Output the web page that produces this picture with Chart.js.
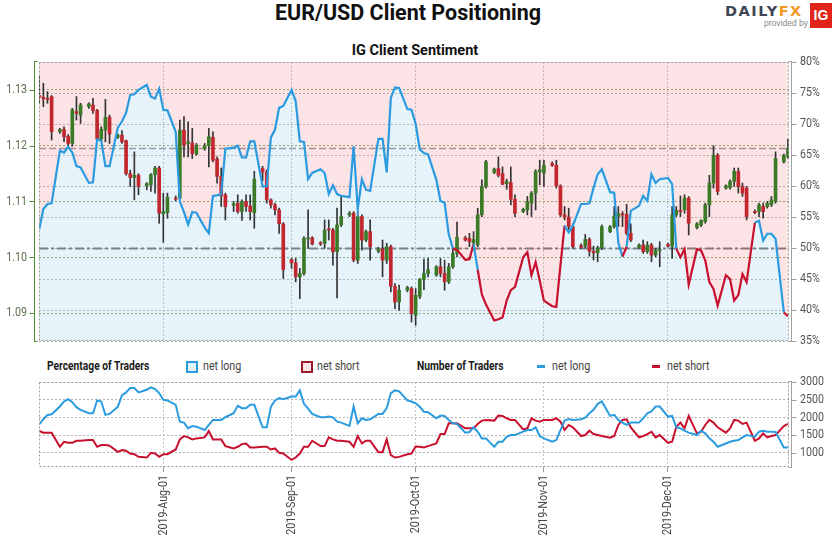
<!DOCTYPE html>
<html>
<head>
<meta charset="utf-8">
<script src="https://cdn.jsdelivr.net/npm/chart.js@4.4.1/dist/chart.umd.min.js"></script>
<style>
  body { margin: 0; background: #fff; }
  #wrap { position: relative; width: 837px; height: 541px; background: #fff; overflow: hidden;
          font-family: Roboto, sans-serif; }
  .abs { position: absolute; white-space: nowrap; }
  .title { left: 408px; top: 0px; transform: translateX(-50%); font: bold 21.5px Roboto, sans-serif; color: #111; }
  .sub { left: 415px; top: 42px; transform: translateX(-50%); font: bold 14.5px Roboto, sans-serif; color: #111; }
  .logo { left: 725px; top: 3px; font: bold 14.5px 'DejaVu Sans', sans-serif; letter-spacing: 1.5px; color: #3f4553; }
  .logo span { color: #f39a1f; }
  .prov { left: 764px; top: 18px; font: 8.5px 'Liberation Sans', sans-serif; color: #8a8a8a; }
  .ig { left: 810px; top: 3px; width: 22px; height: 25px; background: #e2231a; color: #fff;
        font: bold 14px 'Liberation Sans', sans-serif; line-height: 25px; text-align: center; }
  .lg { top: 358px; height: 16px; line-height: 16px; font-size: 13px; color: #444;
        transform: scaleX(0.82); transform-origin: left center; }
  .lg.head { font-weight: bold; font-size: 12.5px; color: #1a1a1a; }
  .box { top: 361px; width: 8px; height: 8px; border: 2px solid; }
  .dash { top: 365px; width: 8px; height: 3px; }
  #topBox { left: 0; top: 55px; width: 837px; height: 295px; }
  #botBox { left: 0; top: 375px; width: 837px; height: 166px; }
</style>
</head>
<body>
<div id="wrap">
  <div class="abs title">EUR/USD Client Positioning</div>
  <div class="abs logo">DAILY<span>FX</span></div>
  <div class="abs prov">provided by</div>
  <div class="abs ig">IG</div>
  <div class="abs sub">IG Client Sentiment</div>

  <div class="abs" id="topBox"><canvas id="sentChart" width="837" height="295"></canvas></div>

  <div class="abs lg head" style="left:47px">Percentage of Traders</div>
  <div class="abs box" style="left:186px;border-color:#2b9be0;background:#e3f1fb"></div>
  <div class="abs lg" style="left:203px">net long</div>
  <div class="abs box" style="left:301px;border-color:#a0192b;background:#fbe3e6"></div>
  <div class="abs lg" style="left:317px">net short</div>
  <div class="abs lg head" style="left:417px">Number of Traders</div>
  <div class="abs dash" style="left:537px;background:#2b9be0"></div>
  <div class="abs lg" style="left:552px">net long</div>
  <div class="abs dash" style="left:652px;background:#c8102e"></div>
  <div class="abs lg" style="left:667px">net short</div>

  <div class="abs" id="botBox"><canvas id="countChart" width="837" height="166"></canvas></div>
</div>

<script>
// day numbers counted from 2019-07-01 (day 0); Saturdays have no candle
const tradingDays = [];
for (let d = 1; d <= 182; d++) {
    if (d % 7 !== 5) tradingDays.push(d);
}

const monthDays = [31, 62, 92, 123, 153];
const monthLabels = ['2019-Aug-01', '2019-Sep-01', '2019-Oct-01', '2019-Nov-01', '2019-Dec-01'];
const priceTicks = [1.09, 1.10, 1.11, 1.12, 1.13];
const countTicks = [1000, 1500, 2000, 2500, 3000];

// EUR/USD daily candles, one line per week
const opens = [
    1.1290, 1.1287, 1.1284, 1.1288,
    1.1225, 1.1229, 1.1217, 1.1204, 1.1261, 1.1255,
    1.1270, 1.1273, 1.1263, 1.1212, 1.1228, 1.1251,
    1.1215, 1.1219, 1.1209, 1.1150, 1.1143, 1.1147,
    1.1128, 1.1130, 1.1148, 1.1160, 1.1078, 1.1080,
    1.1106, 1.1106, 1.1228, 1.1204, 1.1205, 1.1185,
    1.1195, 1.1200, 1.1215, 1.1176, 1.1145, 1.1112,
    1.1093, 1.1097, 1.1082, 1.1100, 1.1092, 1.1080,
    1.1159, 1.1153, 1.1103, 1.1094, 1.1085, 1.1060,
    1.0996, 1.0990, 1.0965, 1.0971, 1.1033, 1.1035,
    1.1026, 1.1025, 1.1051, 1.1049, 1.1010, 1.1058,
    1.1076, 1.1079, 1.0995, 1.1073, 1.1031, 1.1046,
    1.1011, 1.1015, 1.0995, 1.1019, 1.0948, 1.0920,
    1.0941, 1.0944, 1.0896, 1.0930, 1.0960, 1.0971,
    1.0968, 1.0983, 1.0971, 1.0956, 1.0983, 1.1007,
    1.1035, 1.1034, 1.1026, 1.1022, 1.1076, 1.1127,
    1.1152, 1.1159, 1.1150, 1.1132, 1.1134, 1.1104,
    1.1082, 1.1085, 1.1097, 1.1115, 1.1153, 1.1151,
    1.1168, 1.1165, 1.1128, 1.1076, 1.1072, 1.1055,
    1.1021, 1.1020, 1.1032, 1.1011, 1.1008, 1.1017,
    1.1046, 1.1055, 1.1073, 1.1078, 1.1077, 1.1043,
    1.1018, 1.1022, 1.1010, 1.1022, 1.1004, 1.1012,
    1.1023, 1.1020, 1.1076, 1.1084, 1.1085, 1.1106,
    1.1053, 1.1058, 1.1064, 1.1094, 1.1133, 1.1183,
    1.1124, 1.1125, 1.1136, 1.1154, 1.1127, 1.1124,
    1.1082, 1.1082, 1.1091, 1.1091, 1.1094, 1.1100,
    1.1171, 1.1180
];
const highs = [
    1.1324, 1.1312, 1.1297, 1.1290,
    1.1231, 1.1234, 1.1220, 1.1267, 1.1288, 1.1276,
    1.1277, 1.1285, 1.1265, 1.1234, 1.1283, 1.1255,
    1.1221, 1.1227, 1.1210, 1.1156, 1.1189, 1.1150,
    1.1134, 1.1150, 1.1163, 1.1163, 1.1115, 1.1115,
    1.1110, 1.1246, 1.1252, 1.1243, 1.1231, 1.1204,
    1.1204, 1.1231, 1.1225, 1.1180, 1.1160, 1.1115,
    1.1100, 1.1112, 1.1103, 1.1112, 1.1112, 1.1154,
    1.1163, 1.1157, 1.1105, 1.1097, 1.1088, 1.1062,
    1.0998, 1.0998, 1.0980, 1.1037, 1.1085, 1.1037,
    1.1028, 1.1067, 1.1067, 1.1052, 1.1088, 1.1109,
    1.1082, 1.1082, 1.1082, 1.1076, 1.1049, 1.1067,
    1.1018, 1.1031, 1.1025, 1.1022, 1.0953, 1.0950,
    1.0948, 1.0947, 1.0944, 1.0962, 1.0997, 1.0998,
    1.0985, 1.0998, 1.0995, 1.0989, 1.1016, 1.1063,
    1.1038, 1.1043, 1.1046, 1.1088, 1.1139, 1.1174,
    1.1160, 1.1180, 1.1162, 1.1140, 1.1162, 1.1112,
    1.1088, 1.1109, 1.1118, 1.1157, 1.1174, 1.1174,
    1.1171, 1.1174, 1.1130, 1.1091, 1.1088, 1.1060,
    1.1024, 1.1041, 1.1035, 1.1020, 1.1020, 1.1058,
    1.1057, 1.1091, 1.1091, 1.1082, 1.1095, 1.1060,
    1.1024, 1.1031, 1.1028, 1.1025, 1.1016, 1.1028,
    1.1025, 1.1091, 1.1091, 1.1110, 1.1112, 1.1109,
    1.1062, 1.1067, 1.1097, 1.1147, 1.1200, 1.1186,
    1.1130, 1.1139, 1.1160, 1.1160, 1.1133, 1.1127,
    1.1085, 1.1097, 1.1097, 1.1100, 1.1109, 1.1189,
    1.1185, 1.1212
];
const lows = [
    1.1276, 1.1270, 1.1276, 1.1210,
    1.1222, 1.1207, 1.1198, 1.1199, 1.1246, 1.1240,
    1.1267, 1.1258, 1.1210, 1.1207, 1.1207, 1.1204,
    1.1213, 1.1204, 1.1147, 1.1127, 1.1103, 1.1112,
    1.1121, 1.1118, 1.1115, 1.1061, 1.1027, 1.1070,
    1.1101, 1.1105, 1.1180, 1.1180, 1.1177, 1.1183,
    1.1192, 1.1162, 1.1171, 1.1133, 1.1091, 1.1067,
    1.1082, 1.1079, 1.1066, 1.1082, 1.1067, 1.1052,
    1.1137, 1.1097, 1.1088, 1.1076, 1.1043, 1.0962,
    1.0980, 1.0956, 1.0926, 1.0968, 1.1016, 1.1022,
    1.1021, 1.1016, 1.1031, 1.0986, 1.0927, 1.1055,
    1.1073, 1.0992, 1.0989, 1.1013, 1.1028, 1.0995,
    1.1008, 1.0965, 1.0989, 1.0938, 1.0908, 1.0905,
    1.0938, 1.0884, 1.0878, 1.0926, 1.0942, 1.0965,
    1.0966, 1.0965, 1.0941, 1.0953, 1.0980, 1.1001,
    1.1029, 1.1019, 1.1013, 1.1019, 1.1073, 1.1124,
    1.1150, 1.1144, 1.1130, 1.1122, 1.1094, 1.1073,
    1.1080, 1.1076, 1.1073, 1.1085, 1.1130, 1.1127,
    1.1163, 1.1124, 1.1073, 1.1067, 1.1050, 1.1016,
    1.1016, 1.1017, 1.1002, 1.0995, 1.0992, 1.1014,
    1.1044, 1.1052, 1.1055, 1.1055, 1.1040, 1.1028,
    1.1016, 1.1007, 1.1007, 1.0992, 1.1001, 1.0983,
    1.1018, 1.0998, 1.1073, 1.1073, 1.1079, 1.1040,
    1.1051, 1.1055, 1.1061, 1.1073, 1.1124, 1.1112,
    1.1122, 1.1122, 1.1127, 1.1115, 1.1109, 1.1067,
    1.1078, 1.1073, 1.1070, 1.1088, 1.1091, 1.1097,
    1.1169, 1.1177
];
const closes = [
    1.1287, 1.1284, 1.1283, 1.1225,
    1.1229, 1.1216, 1.1204, 1.1264, 1.1258, 1.1273,
    1.1275, 1.1263, 1.1212, 1.1229, 1.1251, 1.1221,
    1.1219, 1.1207, 1.1150, 1.1143, 1.1147, 1.1127,
    1.1132, 1.1148, 1.1160, 1.1079, 1.1082, 1.1108,
    1.1104, 1.1228, 1.1201, 1.1207, 1.1186, 1.1201,
    1.1200, 1.1216, 1.1174, 1.1145, 1.1110, 1.1091,
    1.1096, 1.1082, 1.1100, 1.1091, 1.1082, 1.1140,
    1.1153, 1.1103, 1.1094, 1.1085, 1.1060, 1.0978,
    1.0990, 1.0965, 1.0971, 1.1034, 1.1035, 1.1024,
    1.1024, 1.1049, 1.1049, 1.1010, 1.1058, 1.1073,
    1.1079, 1.0995, 1.1073, 1.1031, 1.1046, 1.1019,
    1.1015, 1.0995, 1.1019, 1.0948, 1.0920, 1.0941,
    1.0946, 1.0899, 1.0932, 1.0961, 1.0971, 1.0978,
    1.0983, 1.0971, 1.0956, 1.0983, 1.1007, 1.1036,
    1.1031, 1.1028, 1.1032, 1.1076, 1.1127, 1.1171,
    1.1158, 1.1147, 1.1131, 1.1136, 1.1104, 1.1079,
    1.1086, 1.1100, 1.1115, 1.1154, 1.1157, 1.1165,
    1.1165, 1.1128, 1.1076, 1.1072, 1.1055, 1.1019,
    1.1018, 1.1032, 1.1011, 1.1008, 1.1017, 1.1055,
    1.1055, 1.1074, 1.1078, 1.1076, 1.1043, 1.1031,
    1.1022, 1.1010, 1.1022, 1.1004, 1.1013, 1.1014,
    1.1020, 1.1076, 1.1084, 1.1082, 1.1106, 1.1061,
    1.1060, 1.1066, 1.1094, 1.1133, 1.1183, 1.1118,
    1.1128, 1.1136, 1.1154, 1.1127, 1.1115, 1.1073,
    1.1080, 1.1094, 1.1082, 1.1097, 1.1103, 1.1177,
    1.1183, 1.1195
];

// IG client sentiment: % of traders net long
const netLongPct = [
    53.0, 56.3, 57.1, 57.2,
    65.7, 65.4, 66.3, 65.4, 63.2, 63.0,
    60.5, 60.6, 67.5, 67.3, 63.2, 63.2,
    69.4, 70.4, 71.8, 74.7, 74.8, 75.5,
    76.3, 74.4, 74.1, 75.7, 72.3, 72.2,
    68.7, 57.5, 55.8, 53.8, 55.8, 55.7,
    53.3, 52.4, 58.4, 58.5, 58.7, 66.0,
    66.2, 66.5, 64.6, 64.6, 67.2, 67.2,
    59.9, 60.0, 67.8, 69.1, 72.6, 72.9,
    75.5, 73.7, 67.2, 67.1, 61.1, 62.1,
    62.7, 62.1, 58.7, 60.1, 58.7, 58.4,
    58.2, 66.4, 56.3, 61.1, 59.4, 59.2,
    67.6, 67.6, 62.2, 74.2, 75.9, 75.8,
    72.4, 72.3, 70.0, 65.9, 65.3, 65.1,
    61.0, 57.6, 57.3, 52.2, 49.9, 49.7,
    48.1, 48.2, 50.6, 46.5, 42.5, 40.9,
    38.3, 38.5, 38.8, 41.5, 43.2, 43.7,
    48.5, 49.3, 45.6, 47.7, 44.7, 41.5,
    40.6, 40.5, 47.2, 53.6, 52.5, 53.6,
    57.1, 57.1, 57.2, 59.7, 61.9, 62.7,
    59.0, 58.9, 50.8, 48.6, 50.2, 56.0,
    56.8, 58.4, 57.6, 61.9, 60.5, 61.1,
    61.3, 60.3, 49.9, 48.5, 49.8, 44.1,
    49.8, 49.6, 48.0, 44.5, 43.4, 40.7,
    45.6, 45.0, 41.5, 42.4, 45.8, 44.5,
    54.1, 54.4, 51.2, 52.3, 52.3, 51.5,
    39.6, 39.0
];

// number of traders
const longCount = [
    1800, 1950, 2071, 2090,
    2308, 2450, 2517, 2430, 2290, 2213,
    2118, 2118, 2479, 2450, 2071, 2099,
    2300, 2620, 2706, 2829, 2829, 2706,
    2782, 2848, 2801, 2687, 2498, 2479,
    2355, 1881, 1853, 1692, 1758, 1739,
    1644, 1787, 1929, 1929, 1929, 2005,
    2118, 2327, 2261, 2261, 2355, 2355,
    1720, 1720, 2300, 2480, 2545, 2517,
    2592, 2592, 2763, 2384, 2250, 2099,
    2005, 2005, 2024, 2000, 1881, 1853,
    1758, 2308, 1834, 1976, 1929, 1948,
    2099, 2099, 2261, 2687, 2763, 2735,
    2479, 2450, 2400, 2300, 2160, 2147,
    1976, 2052, 2043, 1929, 1834, 1815,
    1569, 1588, 1720, 1597, 1408, 1408,
    1171, 1313, 1313, 1455, 1502, 1502,
    1597, 1644, 1644, 1720, 1474, 1408,
    1313, 1360, 1644, 1910, 1957, 1929,
    1948, 1995, 2118, 2213, 2384, 2450,
    2043, 2071, 1929, 1853, 1787, 1853,
    1853, 1976, 2118, 2166, 2308, 2308,
    2024, 2043, 1720, 1692, 1625, 1569,
    1502, 1625, 1550, 1408, 1313, 1171,
    1265, 1313, 1341, 1360, 1436, 1502,
    1455, 1597, 1625, 1597, 1597, 1590,
    1152, 1152
];
const shortCount = [
    1616, 1569, 1569, 1569,
    1171, 1313, 1284, 1284, 1341, 1341,
    1360, 1360, 1171, 1218, 1218, 1199,
    1028, 1076, 1057, 981, 962, 886,
    867, 1000, 981, 886, 962, 962,
    1095, 1379, 1474, 1436, 1379, 1408,
    1436, 1616, 1379, 1379, 1379, 1190,
    1123, 1171, 1246, 1265, 1152, 1152,
    1171, 1171, 1095, 1123, 1000, 981,
    800, 867, 981, 1171, 1171, 1341,
    1190, 1190, 1436, 1379, 1341, 1341,
    1313, 1171, 1474, 1265, 1341, 1341,
    1019, 1019, 1379, 933, 867, 886,
    962, 981, 1180, 1170, 1152, 1190,
    1265, 1531, 1531, 1834, 1834, 1834,
    1692, 1692, 1692, 1815, 1910, 1929,
    1910, 2052, 2043, 1976, 1929, 1929,
    1663, 1692, 1976, 1910, 1881, 1929,
    1929, 1976, 1881, 1644, 1787, 1720,
    1474, 1502, 1625, 1531, 1502, 1474,
    1427, 1474, 1787, 1929, 1948, 1720,
    1436, 1474, 1531, 1597, 1436, 1502,
    1284, 1313, 1739, 1853, 1692, 2043,
    1550, 1597, 1787, 1929, 1853, 1720,
    1569, 1692, 1929, 1910, 1815, 1853,
    1341, 1408, 1550, 1436, 1474, 1502,
    1758, 1815
];

const BLUE = '#2b9be0';
const RED = '#c8102e';
const UP = '#3b7a26';
const DOWN = '#c2262e';
const LABEL_FONT = '13px Roboto, sans-serif';
const SQUEEZE = 0.82;   // the original uses a condensed face
const X_MIN = 0.95, X_MAX = 182.25;

const pts = arr => tradingDays.map((d, i) => ({ x: d, y: arr[i] }));

// dotted frame round the plot area
function drawFrame(ctx, area) {
    ctx.save();
    ctx.strokeStyle = '#9a9a9a';
    ctx.lineWidth = 1;
    ctx.setLineDash([2, 2]);
    ctx.strokeRect(area.left + 0.5, area.top + 0.5, area.width - 1, area.height - 1);
    ctx.restore();
}

// axis line sitting just outside the plot, with small tick marks
function drawAxis(ctx, scale, x, dir, color) {
    ctx.save();
    ctx.strokeStyle = color;
    ctx.lineWidth = 1;
    ctx.setLineDash([]);
    ctx.beginPath();
    ctx.moveTo(x + 0.5, scale.top - 1);
    ctx.lineTo(x + 0.5, scale.bottom + 1);
    ctx.moveTo(x + 0.5, scale.top - 0.5);
    ctx.lineTo(x + 0.5 - dir * 3, scale.top - 0.5);
    ctx.moveTo(x + 0.5, scale.bottom + 0.5);
    ctx.lineTo(x + 0.5 - dir * 3, scale.bottom + 0.5);
    scale.ticks.forEach(t => {
        const y = Math.round(scale.getPixelForValue(t.value)) + 0.5;
        ctx.moveTo(x + 0.5, y);
        ctx.lineTo(x + 0.5 + dir * 5, y);
    });
    ctx.stroke();
    ctx.restore();
}

function drawLabel(ctx, text, x, y, align, color, rotate) {
    ctx.save();
    ctx.translate(x, y);
    if (rotate) ctx.rotate(-Math.PI / 2);
    ctx.scale(SQUEEZE, 1);
    ctx.font = LABEL_FONT;
    ctx.fillStyle = color;
    ctx.textAlign = align;
    ctx.textBaseline = 'middle';
    ctx.fillText(text, 0, 0);
    ctx.restore();
}

function yLabels(ctx, scale, x, align, color, fmt) {
    scale.ticks.forEach(t => {
        drawLabel(ctx, fmt(t.value), x, scale.getPixelForValue(t.value), align, color, false);
    });
}

function hLine(ctx, area, y, color, width, dash) {
    ctx.save();
    ctx.strokeStyle = color;
    ctx.lineWidth = width;
    ctx.setLineDash(dash);
    ctx.beginPath();
    ctx.moveTo(area.left, y);
    ctx.lineTo(area.right, y);
    ctx.stroke();
    ctx.restore();
}

const monthAxisTicks = s => { s.ticks = monthDays.map(v => ({ value: v })); };

// ---------- top panel: price candles + sentiment ----------
new Chart(document.getElementById('sentChart'), {
    type: 'bar',
    data: {
        datasets: [
            {
                type: 'line', data: pts(netLongPct), yAxisID: 'yS',
                fill: 'end', backgroundColor: 'rgba(238, 88, 100, 0.17)',
                borderWidth: 0, pointRadius: 0, order: 10
            },
            {
                type: 'line', data: pts(netLongPct), yAxisID: 'yS',
                fill: 'start', backgroundColor: 'rgba(100, 180, 230, 0.16)',
                borderWidth: 0, pointRadius: 0, order: 9
            },
            {
                data: tradingDays.map((d, i) => ({ x: d, y: [lows[i], highs[i]] })),
                yAxisID: 'yP', barThickness: 1, grouped: false,
                backgroundColor: '#333', order: 3
            },
            {
                data: tradingDays.map((d, i) => ({ x: d, y: [opens[i], closes[i]] })),
                yAxisID: 'yP', barThickness: 3, grouped: false, minBarLength: 1,
                backgroundColor: ctx => closes[ctx.dataIndex] >= opens[ctx.dataIndex] ? UP : DOWN,
                order: 2
            },
            {
                type: 'line', data: pts(netLongPct), yAxisID: 'yS',
                borderWidth: 2.2, pointRadius: 0, fill: false, tension: 0,
                borderColor: BLUE,
                segment: { borderColor: ctx => ctx.p0.parsed.y >= 50 ? BLUE : RED },
                order: 1
            }
        ]
    },
    options: {
        responsive: false,
        animation: false,
        events: [],
        layout: { padding: { top: 7, bottom: 9, left: 0, right: 0 } },
        plugins: { legend: { display: false }, tooltip: { enabled: false } },
        scales: {
            x: {
                type: 'linear', min: X_MIN, max: X_MAX, offset: false,
                afterBuildTicks: monthAxisTicks,
                afterFit: s => { s.height = 0; },
                ticks: { display: false },
                grid: { offset: false, color: '#c4c4c4', drawTicks: false },
                border: { display: false, dash: [2, 2] }
            },
            yP: {
                position: 'left', min: 1.085, max: 1.135, beginAtZero: false,
                afterBuildTicks: s => { s.ticks = priceTicks.map(v => ({ value: v })); },
                afterFit: s => { s.width = 39; },
                ticks: { display: false },
                grid: { color: 'rgba(95, 145, 60, 0.75)', drawTicks: false },
                border: { display: false, dash: [2, 2] }
            },
            yS: {
                position: 'right', min: 35, max: 80, beginAtZero: false,
                afterFit: s => { s.width = 48; },
                ticks: { stepSize: 5, display: false },
                grid: { color: '#b5b5b5', drawTicks: false },
                border: { display: false, dash: [2, 2] }
            }
        }
    },
    plugins: [{
        id: 'topDeco',
        beforeDatasetsDraw(chart) {
            const { ctx, chartArea, scales } = chart;
            const y50 = Math.round(scales.yS.getPixelForValue(50)) + 0.5;
            hLine(ctx, chartArea, y50, '#7b7b7b', 2, [9, 3, 3, 3]);
            const yLast = Math.round(scales.yP.getPixelForValue(closes[closes.length - 1])) + 0.5;
            hLine(ctx, chartArea, yLast, '#999', 1.3, [7, 3]);
        },
        afterDraw(chart) {
            const { ctx, chartArea, scales } = chart;
            drawFrame(ctx, chartArea);
            drawAxis(ctx, scales.yP, chartArea.left - 5, -1, '#4f8a34');
            drawAxis(ctx, scales.yS, chartArea.right + 2, 1, '#a0a0a0');
            yLabels(ctx, scales.yP, 27, 'right', '#5c6e4e', v => v.toFixed(2));
            yLabels(ctx, scales.yS, 800, 'left', '#555', v => v + '%');
        }
    }]
});

// ---------- bottom panel: number of traders ----------
new Chart(document.getElementById('countChart'), {
    type: 'line',
    data: {
        datasets: [
            { data: pts(longCount), borderColor: BLUE, borderWidth: 2, pointRadius: 0, tension: 0, yAxisID: 'yN' },
            { data: pts(shortCount), borderColor: RED, borderWidth: 2, pointRadius: 0, tension: 0, yAxisID: 'yN' }
        ]
    },
    options: {
        responsive: false,
        animation: false,
        events: [],
        layout: { padding: { top: 7, bottom: 0, left: 39, right: 0 } },
        plugins: { legend: { display: false }, tooltip: { enabled: false } },
        scales: {
            x: {
                type: 'linear', min: X_MIN, max: X_MAX, offset: false,
                afterBuildTicks: monthAxisTicks,
                afterFit: s => { s.height = 74; },
                ticks: { display: false },
                grid: { color: '#c4c4c4', drawTicks: true, tickLength: 5, tickColor: '#999' },
                border: { display: false, dash: [2, 2] }
            },
            yN: {
                position: 'right', min: 600, max: 3000,
                afterBuildTicks: s => { s.ticks = countTicks.map(v => ({ value: v })); },
                afterFit: s => { s.width = 48; },
                ticks: { display: false },
                grid: { color: '#b5b5b5', drawTicks: false },
                border: { display: false, dash: [2, 2] }
            }
        }
    },
    plugins: [{
        id: 'botDeco',
        afterDraw(chart) {
            const { ctx, chartArea, scales } = chart;
            drawFrame(ctx, chartArea);
            drawAxis(ctx, scales.yN, chartArea.right + 2, 1, '#a0a0a0');
            yLabels(ctx, scales.yN, 800, 'left', '#555', v => String(v));
            monthDays.forEach((v, i) => {
                drawLabel(ctx, monthLabels[i], scales.x.getPixelForValue(v), chartArea.bottom + 8,
                          'right', '#444', true);
            });
        }
    }]
});
</script>
</body>
</html>
